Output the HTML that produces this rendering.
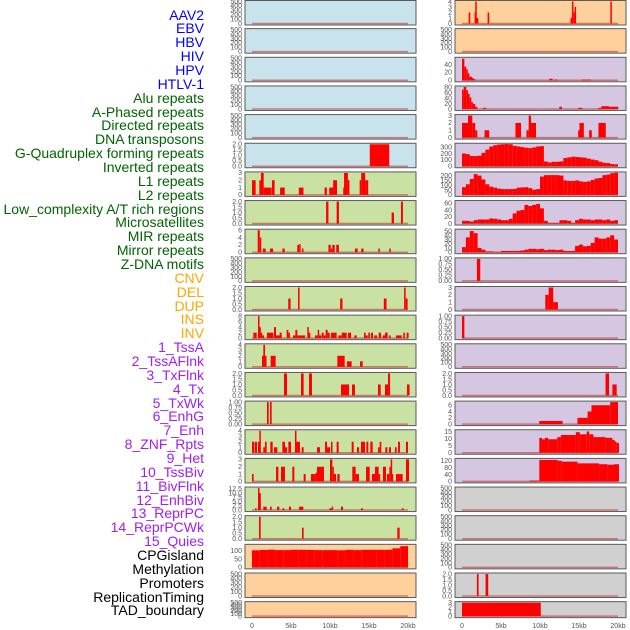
<!DOCTYPE html>
<html><head><meta charset="utf-8">
<style>
html,body{margin:0;padding:0;background:#fff;width:630px;height:630px;overflow:hidden}
#labels{position:absolute;left:0;top:0;width:204px;height:630px}
.lb{position:absolute;right:0;font-family:"Liberation Sans",sans-serif;font-size:14px;line-height:14px;white-space:nowrap}
svg{position:absolute;left:0;top:0}
</style></head><body>
<div id="labels"></div>
<svg id="chart" width="630" height="630"></svg>
<script>
const trackNames = ["AAV2","EBV","HBV","HIV","HPV","HTLV-1","Alu repeats","A-Phased repeats","Directed repeats","DNA transposons","G-Quadruplex forming repeats","Inverted repeats","L1 repeats","L2 repeats","Low_complexity A/T rich regions","Microsatellites","MIR repeats","Mirror repeats","Z-DNA motifs","CNV","DEL","DUP","INS","INV","1_TssA","2_TssAFlnk","3_TxFlnk","4_Tx","5_TxWk","6_EnhG","7_Enh","8_ZNF_Rpts","9_Het","10_TssBiv","11_BivFlnk","12_EnhBiv","13_ReprPC","14_ReprPCWk","15_Quies","CPGisland","Methylation","Promoters","ReplicationTiming","TAD_boundary"];
const trackColors = ["#0000ff","#0000ff","#0000ff","#0000ff","#0000ff","#0000ff","#006400","#006400","#006400","#006400","#006400","#006400","#006400","#006400","#006400","#006400","#006400","#006400","#006400","#ffa500","#ffa500","#ffa500","#ffa500","#ffa500","#a020f0","#a020f0","#a020f0","#a020f0","#a020f0","#a020f0","#a020f0","#a020f0","#a020f0","#a020f0","#a020f0","#a020f0","#a020f0","#a020f0","#a020f0","#000","#000","#000","#000","#000"];
const xTickValues = [0,5,10,15,20];
const xTickLabels = ["0","5kb","10kb","15kb","20kb"];

const t500 = [0,100,200,300,400,500];
const t2 = [0,0.5,1,1.5,2], t2L = ["0.0","0.5","1.0","1.5","2.0"];
const t1 = [0,0.25,0.5,0.75,1], t1L = ["0.00","0.25","0.50","0.75","1.00"];

const leftRow5Bars = [[15.1,17.6,2]];
const leftRow6Bars = [[0,0.47,2],[0.94,1.15,2],[1.15,1.5,3],[1.5,1.67,1],[1.67,2.52,1],[2.56,2.9,2],[3.6,4.2,1],[6.0,6.6,1],[9.3,9.6,1],[9.9,10.4,1],[10.4,10.9,2],[11.7,11.8,1],[11.8,12.3,3],[12.3,12.4,2],[13.8,14.0,2],[14.0,14.5,3],[14.5,14.9,2]];
const leftRow7Bars = [[9.5,9.8,2],[10.85,11.15,2],[17.9,18.2,1],[19.1,19.35,2]];
const leftRow8Bars = [[0.73,1.0,6],[1.0,1.1,4],[1.4,1.75,1],[2.3,2.7,1],[3.9,4.2,1],[5.8,6.05,2],[6.05,6.2,2.2],[6.4,6.6,1],[9.8,10.1,2],[10.1,10.3,1],[10.3,10.6,2],[10.8,11.15,2],[13.2,13.55,1],[14.0,14.3,1],[16.2,16.4,1],[17.6,17.8,1]];
const leftRow10Bars = [[4.65,4.95,1],[5.9,6.1,2],[11.3,11.6,1],[16.9,17.25,1],[19.5,19.7,2],[19.7,19.95,1]];
const leftRow11Bars = [[0.17,0.6,2],[0.77,0.94,8],[0.94,1.11,4],[1.11,1.32,2],[1.32,1.54,1],[1.92,2.74,2],[2.82,3.08,4],[3.08,3.8,1],[3.55,3.8,2],[4.44,4.66,3],[4.66,4.87,2],[5.26,5.56,1],[5.56,5.81,3],[5.81,5.98,1],[5.98,6.8,1],[7.09,7.26,4],[7.26,7.48,2],[8.08,8.42,1],[8.42,8.59,3],[8.59,8.89,1],[8.93,9.19,2],[9.19,9.44,1],[9.44,9.7,3],[9.7,9.96,2],[10.13,10.85,2],[11.07,11.5,1],[11.5,12.14,2],[12.3,12.7,2],[13.12,13.42,1],[14.36,14.57,2],[14.57,14.83,1],[14.91,15.13,2],[15.26,15.51,2],[15.68,16.03,1],[16.24,16.54,2],[16.75,17.05,1],[17.05,17.39,2],[17.56,17.78,1],[18.46,19.19,1],[19.4,19.6,2],[19.83,20.08,2]];
const leftRow12Bars = [[1.28,1.45,2],[1.45,1.67,4],[1.67,1.75,2],[2.39,3.03,2],[10.94,11.88,2],[12.18,12.78,1],[13.85,14.19,1]];
const leftRow13Bars = [[4.1,4.49,2],[6.28,6.62,2],[7.31,7.69,2],[11.41,12.44,1],[12.82,13.2,1],[16.15,16.5,1],[17.05,17.44,1],[17.44,17.7,2],[19.87,20.2,1]];
const leftRow14Bars = [[1.92,2.14,1],[2.31,2.52,1]];
const leftRow15Bars = [[0,0.3,2],[0.38,0.64,2],[0.77,0.94,2],[0.94,1.11,4],[1.45,1.67,1],[1.67,1.88,2],[2.35,2.65,2],[2.82,3.25,1],[3.89,4.23,2],[4.23,4.49,1],[4.66,5.0,2],[5.51,5.68,4],[5.68,6.15,2],[6.37,6.62,1],[8.33,8.72,1],[9.36,9.62,2],[9.62,10.0,1],[10.13,10.3,2],[10.85,11.11,2],[12.78,13.03,2],[13.46,13.72,1],[13.97,14.49,2],[14.66,14.91,2],[15.17,15.47,2],[16.15,16.37,1],[16.37,16.58,2],[17.09,17.35,1],[17.56,17.82,1],[18.33,18.55,1],[18.72,18.97,2],[19.74,20.0,2]];
const leftRow16Bars = [[0,0.21,1],[3.08,3.38,2],[3.72,4.23,2],[5.17,5.43,2],[6.62,6.88,1],[7.56,8.16,1],[8.16,8.33,1.2],[8.33,9.23,2],[10.0,10.3,3],[10.3,10.47,2],[10.47,10.77,1],[10.94,11.24,1],[12.86,13.29,2],[13.29,13.72,1],[14.62,15.09,2],[15.38,15.77,1],[15.77,16.24,2],[16.24,16.41,1],[16.79,17.18,2],[17.31,17.61,1],[17.61,17.78,2],[17.78,17.91,3],[17.91,18.03,1],[18.46,19.32,1],[19.74,20.13,3]];
const leftRow17Bars = [[0.38,0.6,1],[0.77,0.94,13],[0.94,1.11,10],[1.45,1.88,2],[2.31,2.52,2],[3.21,3.5,2],[3.89,4.15,1],[4.74,5.0,2],[6.03,6.58,2],[9.91,10.21,1],[10.21,10.38,2],[11.41,11.67,2],[13.97,14.23,1],[19.19,19.44,1]];
const leftRow18Bars = [[0.9,1.11,2],[6.41,6.62,1],[18.63,18.93,1]];
const leftCpgValues = [103,105,107,104,104,106,106,105,104,104,104,103,106,104,106,106,106,106,115,128];

const rightRow0Bars = [[0.85,1.06,2],[1.62,1.7,2],[1.7,1.83,4],[1.83,2.09,1],[3.28,3.49,2],[13.91,14.09,1],[14.09,14.21,4],[14.3,14.43,2],[14.43,14.6,3],[19.02,19.19,4]];
const rightRow2Bars = [[0,0.3,55],[0.3,0.55,35],[0.55,0.72,28],[0.72,0.94,18],[0.94,1.28,9],[1.28,1.49,6],[1.49,1.7,3],[11.19,11.62,4],[11.83,12.26,2],[15.36,16.55,2]];
const rightRow3Bars = [[0,0.21,70],[0.21,0.55,80],[0.55,0.77,68],[0.77,0.98,55],[0.98,1.19,42],[1.19,1.4,25],[1.4,1.7,18],[1.7,1.96,8],[2.68,3.11,4],[12.47,12.81,8],[14.89,15.45,4],[17.49,17.87,4],[17.87,18.85,10],[18.85,20.04,8]];
const rightRow4Bars = [[0,0.77,2],[0.77,1.32,3],[1.32,1.7,2],[1.7,1.96,1],[2.89,3.49,1],[6.85,7.57,2],[8.26,8.55,1],[8.55,8.85,3],[8.85,9.49,2],[14.89,15.06,1],[15.06,15.62,2],[16.3,16.64,1],[17.49,18.43,2]];
const rightGQuadValues = [200,190,160,160,165,210,260,310,330,340,345,348,345,320,310,300,290,285,295,310,315,75,60,70,70,75,130,140,150,145,140,135,120,105,95,70,55,50,35,30];
const rightL1Values = [80,110,165,215,200,160,110,85,75,65,60,60,60,62,75,78,80,70,55,60,190,205,205,205,205,200,150,145,145,150,140,135,140,155,170,175,205,210,225,230];
const rightLowCompValues = [8,8,6,10,12,12,12,15,14,12,10,10,14,30,38,40,55,52,55,58,45,8,2,2,2,10,10,8,2,10,14,12,12,10,12,12,10,12,8,10];
const rightMicrosatValues = [12,35,50,45,10,6,2,2,1,1,3,3,3,3,3,4,6,8,8,7,8,5,6,6,5,6,3,3,3,15,18,14,15,22,35,32,32,35,40,30];
const rightRow9Bars = [[1.91,2.34,1]];
const rightRow10Bars = [[10.68,11.11,2],[11.11,11.7,3],[11.7,12.3,1]];
const rightRow11Bars = [[0,0.3,1]];
const rightRow13Bars = [[18.4,18.85,2],[19.28,19.83,1]];
const rightRow14Bars = [[9.9,12.9,1],[14.8,16.1,2],[16.1,16.6,4],[16.6,19.0,6],[19.0,20.0,7]];
const rightRow15Bars = [[9.91,10.26,10.5],[10.26,10.64,9.5],[10.64,11.06,10.5],[11.06,12.21,9.5],[12.21,12.68,11],[12.68,14.6,12.5],[14.6,15.11,14.5],[15.11,16.0,13],[16.0,16.3,15],[16.3,16.85,13],[16.85,18.43,11],[18.43,19.28,10.5],[19.28,19.57,9],[19.57,19.79,8],[19.79,20.13,7]];
const rightRow16Bars = [[8.64,9.91,5],[9.91,12.26,125],[12.26,12.8,120],[12.8,14.8,115],[14.8,17.57,105],[17.57,18.64,100],[18.64,19.49,97],[19.49,20.13,100]];
const rightRow20Bars = [[1.91,2.13,2],[3.02,3.36,2]];
const rightRow21Bars = [[0,10.1,3]];

const BLUE="#c8e3ec", GREEN="#c9e1a3", ORANGE="#fdd09c", PURPLE="#d5c6e1", GRAY="#d0d0d0";
function P(row,side,bg,ymax,ticks,tl,bars,series,bw){return {row,side,bg,ymax,ticks,tl:tl||ticks.map(String),bars,series,bw};}
const panels = [
 P(0,0,BLUE,500,t500),P(1,0,BLUE,500,t500),P(2,0,BLUE,500,t500),P(3,0,BLUE,500,t500),P(4,0,BLUE,500,t500),
 P(5,0,BLUE,2,t2,t2L,leftRow5Bars),
 P(6,0,GREEN,3,[0,1,2,3],null,leftRow6Bars),
 P(7,0,GREEN,2,t2,t2L,leftRow7Bars),
 P(8,0,GREEN,6,[0,2,4,6],null,leftRow8Bars),
 P(9,0,GREEN,500,t500),
 P(10,0,GREEN,2,t2,t2L,leftRow10Bars),
 P(11,0,GREEN,8,[0,2,4,6,8],null,leftRow11Bars),
 P(12,0,GREEN,4,[0,1,2,3,4],null,leftRow12Bars),
 P(13,0,GREEN,2,t2,t2L,leftRow13Bars),
 P(14,0,GREEN,1,t1,t1L,leftRow14Bars),
 P(15,0,GREEN,4,[0,1,2,3,4],null,leftRow15Bars),
 P(16,0,GREEN,3,[0,1,2,3],null,leftRow16Bars),
 P(17,0,GREEN,13,[0,2.5,5,7.5,10,12.5],["0.0","2.5","5.0","7.5","10.0","12.5"],leftRow17Bars),
 P(18,0,GREEN,2,t2,t2L,leftRow18Bars),
 P(19,0,ORANGE,133,[0,50,100],null,null,leftCpgValues,1),
 P(20,0,ORANGE,500,t500),P(21,0,ORANGE,500,t500),
 P(0,1,ORANGE,4,[0,1,2,3,4],null,rightRow0Bars),
 P(1,1,ORANGE,500,t500),
 P(2,1,PURPLE,56,[0,20,40],null,rightRow2Bars),
 P(3,1,PURPLE,80,[0,20,40,60,80],null,rightRow3Bars),
 P(4,1,PURPLE,3,[0,1,2,3],null,rightRow4Bars),
 P(5,1,PURPLE,345,[0,100,200,300],null,null,rightGQuadValues,0.5),
 P(6,1,PURPLE,228,[0,50,100,150,200],null,null,rightL1Values,0.5),
 P(7,1,PURPLE,65,[0,20,40,60],null,null,rightLowCompValues,0.5),
 P(8,1,PURPLE,52,[0,10,20,30,40,50],null,null,rightMicrosatValues,0.5),
 P(9,1,PURPLE,1,t1,t1L,rightRow9Bars),
 P(10,1,PURPLE,3,[0,1,2,3],null,rightRow10Bars),
 P(11,1,PURPLE,1,t1,t1L,rightRow11Bars),
 P(12,1,PURPLE,500,t500),
 P(13,1,PURPLE,2,t2,t2L,rightRow13Bars),
 P(14,1,PURPLE,7,[0,2,4,6],null,rightRow14Bars),
 P(15,1,PURPLE,15.5,[0,5,10,15],null,rightRow15Bars),
 P(16,1,PURPLE,128,[0,40,80,120],null,rightRow16Bars),
 P(17,1,GRAY,500,t500),P(18,1,GRAY,500,t500),P(19,1,GRAY,500,t500),
 P(20,1,GRAY,2,t2,t2L,rightRow20Bars),
 P(21,1,GRAY,3,[0,1,2,3],null,rightRow21Bars)
];

const NS="http://www.w3.org/2000/svg";
const svg=document.getElementById('chart');
const labelsDiv=document.getElementById('labels');
function mk(tag,attrs,parent){const e=document.createElementNS(NS,tag);for(const k in attrs)e.setAttribute(k,attrs[k]);(parent||svg).appendChild(e);return e;}

trackNames.forEach((n,i)=>{
  const d=document.createElement('div');
  d.className='lb';
  
  
  d.style.top=(14+i*13.86-6.5)+'px';
  d.style.color=trackColors[i];
  d.textContent=n;
  labelsDiv.appendChild(d);
});

const colX=[245,455];
const panelW=171;
function xScale(side,kb){return colX[side]+7+kb*7.8;}
panels.forEach(p=>{
  const top=Math.max(0.5,p.row*28.65);
  const h=p.row===21?16:24.5;
  const bottom=top+h;
  const base=bottom-1.5, span=h-2.5;
  const ys=v=>base-v/p.ymax*span;
  const g=mk('g',{});
  
  
  const bg=mk('rect',{x:colX[p.side],y:top,width:panelW,height:h,fill:p.bg,stroke:'none'},g);
  
  
  mk('line',{x1:xScale(p.side,0),x2:xScale(p.side,20),y1:base,y2:base,stroke:'rgba(200,40,40,0.55)','stroke-width':1.5},g);
  const drawBar=(s,e,v)=>{
    const x0=xScale(p.side,s), x1=xScale(p.side,e);
    const y=ys(v);
    const r=mk('rect',{x:x0,y:y,width:Math.max(1.5,x1-x0),height:Math.max(0,base-y),fill:'#ff0000'},g);
    
    
  };
  if(p.bars) p.bars.forEach(b=>drawBar(b[0],b[1],b[2]));
  if(p.series) p.series.forEach((v,i)=>drawBar(i*p.bw,(i+1)*p.bw,v));
  const frame=mk('rect',{x:colX[p.side],y:top,width:panelW,height:h,fill:'none',stroke:'#5a5a5a','stroke-width':1},g);
  
  
  p.ticks.forEach((t,i)=>{
    const tx=mk('text',{x:colX[p.side]-3,y:ys(t)+2.3,'text-anchor':'end','font-family':'Liberation Sans, sans-serif','font-size':7,fill:'#555'},g);
    
    
    tx.textContent=p.tl[i];
  });
});
[0,1].forEach(side=>{
  xTickValues.forEach((v,i)=>{
    const t=mk('text',{x:xScale(side,v),y:628,'text-anchor':'middle','font-family':'Liberation Sans, sans-serif','font-size':7,fill:'#555'});
    
    
    t.textContent=xTickLabels[i];
  });
});
</script>
</body></html>
